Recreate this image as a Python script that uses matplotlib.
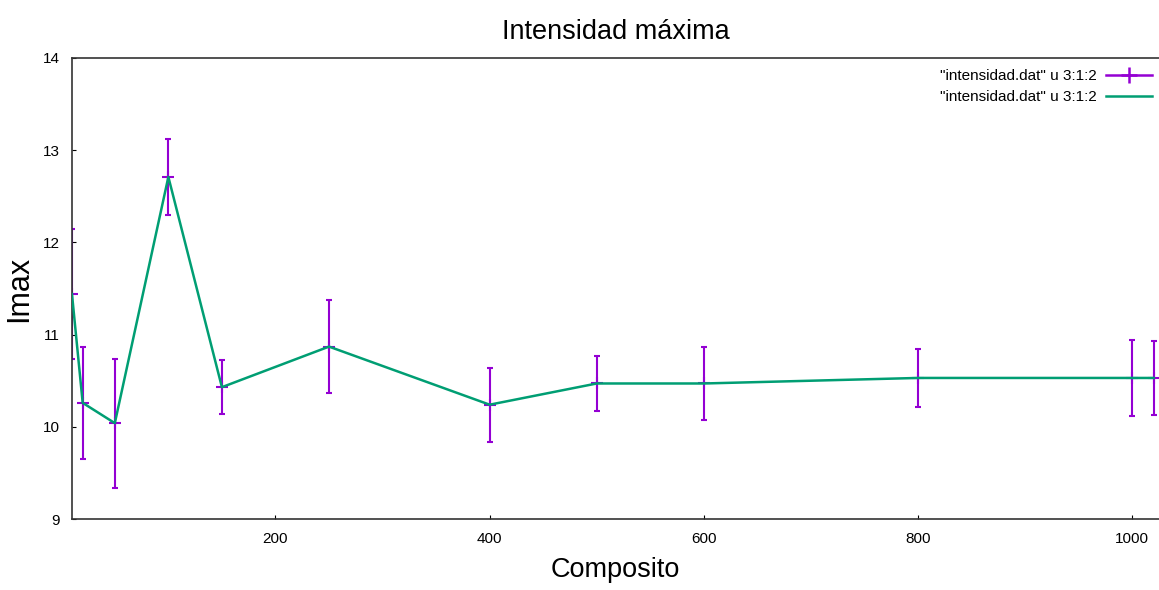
import matplotlib.pyplot as plt
from matplotlib.lines import Line2D

# composito value, max intensity and its error
composito = [10, 20, 50, 100, 150, 250, 400, 500, 600, 800, 1000, 1020]
imax = [11.44, 10.26, 10.04, 12.71, 10.43, 10.87, 10.24, 10.47, 10.47, 10.53, 10.53, 10.53]
err = [0.70, 0.61, 0.70, 0.41, 0.29, 0.50, 0.40, 0.30, 0.40, 0.31, 0.41, 0.40]

x_ticks = [200, 400, 600, 800, 1000]
y_ticks = [9, 10, 11, 12, 13, 14]
series_label = '"intensidad.dat" u 3:1:2'

PURPLE = "#9400D3"
GREEN = "#009E73"

plt.rcParams["font.family"] = ["Liberation Sans", "DejaVu Sans"]

fig = plt.figure(figsize=(11.59, 5.90), dpi=100)
ax = fig.add_axes([0.0621, 0.1203, 0.9379, 0.7814])

ax.errorbar(composito, imax, yerr=err, fmt="+", color=PURPLE, ecolor=PURPLE,
            elinewidth=1.5, capsize=2.5, capthick=1.5, ms=9, mew=1.5, zorder=2)
ax.plot(composito, imax, color=GREEN, lw=1.8, zorder=3)

ax.set_xlim(10, 1025)
ax.set_ylim(9, 14)
ax.set_xticks(x_ticks)
ax.set_yticks(y_ticks)
ax.tick_params(direction="in", length=3, width=0.8, labelsize=11, pad=9)
ax.tick_params(axis="x", pad=9)
ax.spines["right"].set_visible(False)
for s in ("left", "top", "bottom"):
    ax.spines[s].set_linewidth(1.2)
    ax.spines[s].set_color("#333333")

ax.set_title("Intensidad máxima", fontsize=19.5, pad=14)
ax.set_xlabel("Composito", fontsize=19.5, labelpad=8)
ax.set_ylabel("Imax", fontsize=22, labelpad=6)

h1 = Line2D([0], [0], color=PURPLE, lw=1.8, marker="+", ms=12, mew=1.8)
h2 = Line2D([0], [0], color=GREEN, lw=1.8)
ax.legend([h1, h2], [series_label, series_label], loc="upper right",
          frameon=False, markerfirst=False, fontsize=11, handlelength=3.0,
          handletextpad=0.6, labelspacing=0.45, borderaxespad=0.2,
          bbox_to_anchor=(1.002, 0.995))

fig.savefig("out.png", dpi=100)
